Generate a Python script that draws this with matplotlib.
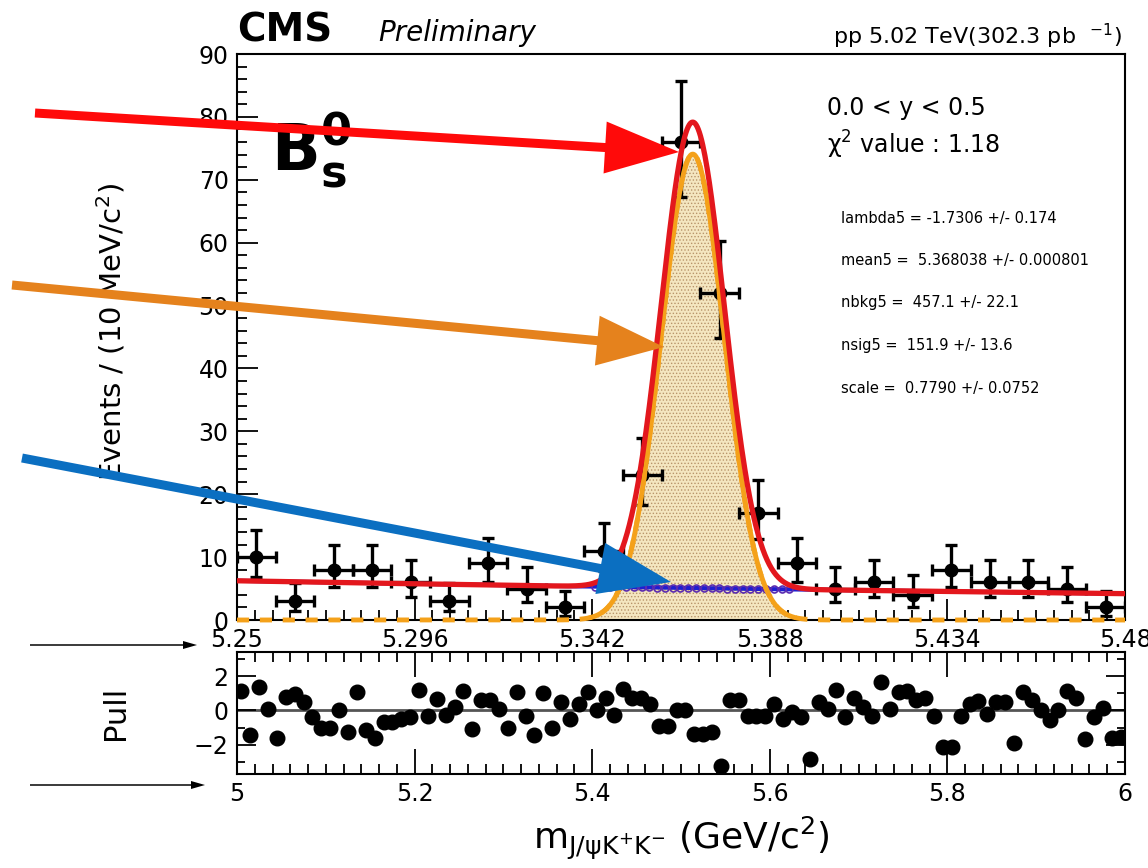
import numpy as np
import matplotlib
matplotlib.use("Agg")
import matplotlib.pyplot as plt
from matplotlib.patches import FancyArrow
from matplotlib.ticker import FixedLocator, MultipleLocator

plt.rcParams['font.family'] = ['DejaVu Sans']
plt.rcParams['mathtext.fontset'] = 'dejavusans'
plt.rcParams['mathtext.default'] = 'regular'
plt.rcParams['hatch.linewidth'] = 0.6

# ---- data: B_s^0 -> J/psi K+ K-, 0.0 < y < 0.5 ----
bin_width = 0.01
mass_lo, mass_hi = 5.25, 5.48
counts = [10, 3, 8, 8, 6, 3, 9, 5, 2, 11, 23, 76, 52, 17, 9, 5, 6, 4, 8, 6, 6, 5, 2]

# fit results printed on the plot
lambda5 = -1.7306
mean5 = 5.368038
nbkg5 = 457.1
nsig5 = 151.9
scale5 = 0.7790
sigma_mc = 0.0105          # MC signal width, smeared by scale5
fit_lo, fit_hi = 5.0, 6.0

# pulls over the full fit window (100 bins of 10 MeV)
pulls = [1.15, -1.45, 1.35, 0.1, -1.6, 0.8, 0.95, 0.5, -0.4, -1.05,
         -1.0, 0.0, -1.25, 1.05, -1.15, -1.6, -0.7, -0.7, -0.5, -0.4,
         1.2, -0.3, 0.65, -0.25, 0.2, 1.15, -1.1, 0.6, 0.6, 0.1,
         -1.05, 1.05, -0.3, -1.45, 1.0, -1.0, 0.5, -0.5, 0.35, 1.05,
         0.0, 0.7, -0.25, 1.25, 0.75, 0.7, 0.4, -0.9, -0.9, 0.0,
         0.0, -1.35, -1.35, -1.25, -3.25, 0.6, 0.6, -0.3, -0.3, -0.3,
         0.4, -0.5, -0.1, -0.4, -2.8, 0.5, 0.1, 1.2, -0.4, 0.7,
         0.2, -0.3, 1.65, 0.1, 1.05, 1.15, 0.6, 0.75, -0.3, -2.1,
         -2.1, -0.3, 0.35, 0.55, -0.22, 0.5, 0.5, -1.9, 1.05, 0.6,
         0.0, -0.55, 0.0, 1.15, 0.7, -1.65, -0.4, 0.15, -1.6, -1.55]

x_ticks = [5.25, 5.296, 5.342, 5.388, 5.434, 5.48]
x_tick_labels = ['5.25', '5.296', '5.342', '5.388', '5.434', '5.48']

# ---- derived quantities ----
n = np.array(counts, dtype=float)
centers = mass_lo + bin_width * (np.arange(len(counts)) + 0.5)
# Garwood 68% Poisson interval (Wilson-Hilferty)
err_lo = n - n * (1 - 1 / (9 * n) - 1 / (3 * np.sqrt(n))) ** 3
err_hi = (n + 1) * (1 - 1 / (9 * (n + 1)) + 1 / (3 * np.sqrt(n + 1))) ** 3 - n

pull_x = fit_lo + bin_width * (np.arange(len(pulls)) + 0.5)

m = np.linspace(mass_lo, mass_hi, 800)
sigma = scale5 * sigma_mc
sig = nsig5 * bin_width * np.exp(-0.5 * ((m - mean5) / sigma) ** 2) / (sigma * np.sqrt(2 * np.pi))
bkg_norm = (np.exp(lambda5 * fit_hi) - np.exp(lambda5 * fit_lo)) / lambda5
bkg = nbkg5 * bin_width * np.exp(lambda5 * m) / bkg_norm
total = sig + bkg

W, H = 1148, 868
fig = plt.figure(figsize=(W / 100, H / 100), dpi=100)


def px_box(left, top, right, bottom):
    return [left / W, 1 - bottom / H, (right - left) / W, (bottom - top) / H]


ax = fig.add_axes(px_box(237, 54, 1125, 620))
axp = fig.add_axes(px_box(237, 652, 1125, 774))

# ---- main panel ----
ax.fill_between(m, 0, sig, where=sig > 0.05, facecolor='#f4e6c0',
                edgecolor='#b8946a', hatch='.....', linewidth=0, zorder=2)
ax.errorbar(centers, n, xerr=bin_width / 2, yerr=[err_lo, err_hi], fmt='o',
            color='black', ms=9, elinewidth=2.4, capsize=4.5, capthick=2.4, zorder=3)
ax.plot(m, bkg, color='#1f1fd0', lw=3, zorder=4)
inside = sig > 0.6
ax.plot(m[inside][::7], bkg[inside][::7], 'o', mfc='none', mec='#5b2cb0',
        ms=5, mew=1.2, zorder=4.5)
ax.plot(m, sig, color='#f4a11a', lw=3.5, ls=(0, (2.5, 2.2)), zorder=5, clip_on=False)
peak = sig > 0.4
ax.plot(m[peak], sig[peak], color='#f4a11a', lw=3.5, zorder=5)
ax.plot(m, total, color='#e3171d', lw=3.8, zorder=6)

ax.set_xlim(mass_lo, mass_hi)
ax.set_ylim(0, 90)
ax.xaxis.set_major_locator(FixedLocator(x_ticks))
ax.xaxis.set_minor_locator(FixedLocator(np.linspace(mass_lo, mass_hi, 51)))
ax.set_xticklabels(x_tick_labels)
ax.yaxis.set_major_locator(MultipleLocator(10))
ax.yaxis.set_minor_locator(MultipleLocator(2))
ax.tick_params(which='both', direction='in', top=False, right=False, width=1.3,
               labelsize=17, pad=6)
ax.tick_params(which='major', length=15)
ax.tick_params(which='minor', length=7.5)
for s in ax.spines.values():
    s.set_linewidth(1.5)

ax.text(0.038, 0.795, r'$\mathbf{B}_{\mathbf{s}}^{\mathbf{0}}$', transform=ax.transAxes,
        fontsize=46, fontweight='bold')
ax.text(0.664, 0.905, '0.0 < y < 0.5', transform=ax.transAxes, fontsize=17, va='center')
ax.text(0.664, 0.84, r'$\chi^{2}$ value : 1.18', transform=ax.transAxes, fontsize=17,
        va='center')
params = ['lambda5 = -1.7306 +/- 0.174',
          'mean5 =  5.368038 +/- 0.000801',
          'nbkg5 =  457.1 +/- 22.1',
          'nsig5 =  151.9 +/- 13.6',
          'scale =  0.7790 +/- 0.0752']
for i, p in enumerate(params):
    ax.text(0.68, (620 - 218 - 42.5 * i) / 566, p, transform=ax.transAxes,
            fontsize=10.5, va='center')

ax.set_ylabel(r'Events / (10 MeV/c$^{2}$)', fontsize=21)
ax.yaxis.set_label_coords(-0.123, 0.51)

# ---- pull panel ----
axp.axhline(0, color='#555555', lw=2, zorder=1)
axp.plot(pull_x, pulls, 'o', color='black', ms=10.5, zorder=3)
axp.set_xlim(fit_lo, fit_hi)
axp.set_ylim(-3.7, 3.4)
axp.set_xticks([5, 5.2, 5.4, 5.6, 5.8, 6])
axp.set_xticklabels(['5', '5.2', '5.4', '5.6', '5.8', '6'])
axp.xaxis.set_minor_locator(FixedLocator(np.linspace(fit_lo, fit_hi, 51)))
axp.yaxis.set_major_locator(FixedLocator([-2, 0, 2]))
axp.set_yticklabels(['\u22122', '0', '2'])
axp.yaxis.set_minor_locator(FixedLocator([-3, -1, 1, 3]))
axp.tick_params(which='both', direction='in', top=True, right=True, width=1.3,
                labelsize=17, pad=6)
axp.tick_params(axis='x', which='major', length=18)
axp.tick_params(axis='x', which='minor', length=7.5)
axp.tick_params(axis='y', which='major', length=14)
axp.tick_params(axis='y', which='minor', length=6)
for s in axp.spines.values():
    s.set_linewidth(1.5)
axp.set_ylabel('Pull', fontsize=22)
axp.yaxis.set_label_coords(-0.121, 0.5)
axp.set_xlabel(r'm$_{J/\psi K^{+}K^{-}}$ (GeV/c$^{2}$)', fontsize=26)
axp.xaxis.set_label_coords(0.5, -0.33)

# ---- header ----
fig.text(237 / W, 1 - 41 / H, 'CMS', fontsize=28, fontweight='bold', va='baseline')
fig.text(378 / W, 1 - 41 / H, 'Preliminary', fontsize=20, style='italic', va='baseline')
fig.text(1122 / W, 1 - 44 / H, r'pp 5.02 TeV(302.3 pb  $^{-1}$)', fontsize=16,
         ha='right', va='baseline')

# ---- pointer arrows (pixel coordinates, y from top) ----
def arrow(x0, y0, x1, y1, color, width, head_w, head_l):
    a = FancyArrow(x0 / 100, (H - y0) / 100, (x1 - x0) / 100, -(y1 - y0) / 100,
                   width=width, head_width=head_w, head_length=head_l,
                   length_includes_head=True, color=color, lw=0,
                   transform=fig.dpi_scale_trans, zorder=10)
    fig.add_artist(a)


arrow(35, 113, 679, 152, '#ff0a0a', 0.09, 0.52, 0.74)
arrow(12, 285, 664, 347, '#e5821d', 0.09, 0.50, 0.67)
arrow(22, 458, 671, 582, '#0b6fc1', 0.09, 0.52, 0.72)
arrow(30, 645, 197, 645, 'black', 0.015, 0.08, 0.14)
arrow(30, 785, 205, 785, 'black', 0.015, 0.08, 0.14)

fig.savefig('out.png', dpi=100)
